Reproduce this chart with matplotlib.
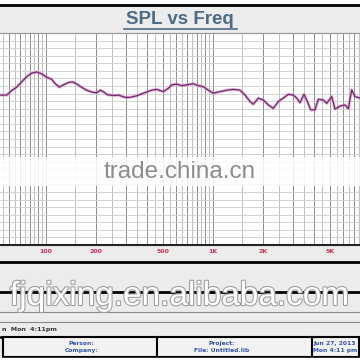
import matplotlib
matplotlib.use("Agg")
import matplotlib.pyplot as plt
from matplotlib.lines import Line2D
from matplotlib.patches import Rectangle
from matplotlib.ticker import FixedLocator, NullFormatter
import matplotlib.patheffects as pe

# SPL curve (Hz, dB)
freq_hz = [52, 53, 58.2, 62.3, 66.8, 71.5, 76.7, 82.1, 88.0, 94.3, 101, 108, 113,
           120, 127, 136, 144, 153, 164, 175, 188, 201, 211, 220, 233, 253, 271,
           297, 318, 349, 383, 430, 460, 482, 504, 540, 566, 606, 650, 696, 762,
           817, 875, 937, 1004, 1101, 1208, 1323, 1451, 1555, 1666, 1743, 1868,
           2001, 2144, 2297, 2460, 2636, 2824, 3026, 3171, 3319, 3507, 3640, 3846,
           4081, 4271, 4576, 4795, 5138, 5377, 5761, 6172, 6460, 6770, 7086, 7592, 7700]
spl_db = [83.6, 83.6, 83.6, 84.8, 85.7, 87.1, 88.5, 89.4, 89.7, 89.2, 88.3, 87.8, 86.7,
          85.7, 86.3, 86.9, 87.1, 86.5, 85.6, 84.9, 84.4, 84.2, 84.9, 84.5, 83.7, 83.5, 83.6,
          83.0, 83.0, 83.4, 84.1, 84.9, 85.1, 84.8, 84.5, 85.4, 86.3, 86.5, 86.1, 86.3, 86.6,
          86.1, 85.8, 84.9, 84.1, 84.5, 84.9, 85.1, 84.9, 83.6, 81.9, 81.2, 82.8,
          82.3, 81.0, 80.1, 81.9, 82.8, 83.8, 83.6, 82.8, 81.6, 83.8, 82.3, 79.7,
          79.7, 82.5, 82.3, 81.4, 83.2, 79.9, 80.7, 81.0, 80.0, 85.0, 83.2, 82.8, 82.6]

tick_freqs = [100, 200, 500, 1000, 2000, 5000]
tick_labels = ["100", "200", "500", "1K", "2K", "5K"]

table_left = ["Person:", "Company:"]
table_mid = ["Project:", "File: Untitled.lib"]
table_right = ["Jun 27, 2013", "Mon 4:11 pm"]

fig = plt.figure(figsize=(3.6, 3.6), dpi=100, facecolor="#ececec")
ax = fig.add_axes([0, 1 - 245 / 360, 1, 212 / 360])
ax.set_facecolor("white")
ax.set_xscale("log")
ax.set_xlim(53, 7590)
ax.set_ylim(44, 100)

major_grid = [m * 10 ** d for d in (1, 2, 3) for m in range(1, 10)]
minor_grid = [(m + 0.5) * 10 ** d for d in (1, 2, 3) for m in range(1, 10)]
ax.xaxis.set_major_locator(FixedLocator(major_grid))
ax.xaxis.set_minor_locator(FixedLocator(minor_grid))
ax.xaxis.set_major_formatter(NullFormatter())
ax.xaxis.set_minor_formatter(NullFormatter())
ax.yaxis.set_major_locator(FixedLocator(list(range(44, 101, 2))))
ax.yaxis.set_major_formatter(NullFormatter())
ax.grid(True, which="major", axis="x", color="#8c8c8c", lw=0.7)
ax.grid(True, which="minor", axis="x", color="#b4b4b4", lw=0.6)
ax.grid(True, which="major", axis="y", color="#cccccc", lw=0.6)
ax.tick_params(which="both", length=0)
ax.set_axisbelow(True)
for s in ("left", "right"):
    ax.spines[s].set_visible(False)
ax.spines["top"].set_color("#999999")
ax.spines["bottom"].set_color("#222222")
ax.spines["bottom"].set_linewidth(1.5)

# tick labels
for f, lab in zip(tick_freqs, tick_labels):
    ax.annotate(lab, (f, 0), xycoords=("data", "axes fraction"), xytext=(0, -3),
                textcoords="offset points", ha="center", va="top", fontsize=4.5,
                fontweight="bold", color="#cc3355", annotation_clip=False)

# curve
ax.plot(freq_hz, spl_db, color="#d77fc8", lw=2.2, alpha=0.6)
ax.plot(freq_hz, spl_db, color="#6e2a63", lw=0.9)

Z = 5
def hline(y_px, color="black", lw=1.0, x0=0, x1=1):
    fig.add_artist(Line2D([x0, x1], [1 - y_px / 360] * 2, color=color, lw=lw, zorder=Z))

# title bar
fig.add_artist(Rectangle((0, 1 - 5 / 360), 1, 5 / 360, color="white", zorder=Z))
hline(5, lw=2)
hline(32.5, color="#999999", lw=0.8)
fig.text(0.5, 1 - 19.5 / 360, "SPL vs Freq", ha="center", va="center", fontsize=13.5,
         fontweight="bold", family="Liberation Sans", color="#4b6b87", zorder=Z)
hline(29, color="#4b6b87", lw=1.2, x0=124 / 360, x1=237 / 360)

# trade.china.cn watermark
fig.add_artist(Rectangle((0, 1 - 186 / 360), 1, 29 / 360, color="white", alpha=0.85,
                         lw=0, zorder=Z))
fig.text(0.5, 1 - 172 / 360, "trade.china.cn", ha="center", va="center", fontsize=17.5,
         family="Liberation Sans", color="#8c8c8c", zorder=Z + 1)

# bottom panels
hline(261.5, lw=2)
hline(291.5, lw=2)
hline(311.5, color="#8a8a8a", lw=0.8)
hline(321.5, color="#8a8a8a", lw=0.8)
fig.text(0.005, 1 - 329 / 360, "n  Mon  4:11pm", ha="left", va="center", fontsize=4.5,
         fontweight="bold", color="#333333", zorder=Z)
hline(336.5, lw=1.8)
fig.add_artist(Rectangle((0.0075, 1 - 357 / 360), 0.99, 20 / 360, facecolor="#f2f2f2",
                         edgecolor="black", lw=1.5, zorder=Z))
for xp in (156.7, 311.7):
    fig.add_artist(Line2D([xp / 360] * 2, [1 - 357 / 360, 1 - 337 / 360], color="black",
                          lw=1.5, zorder=Z))
fig.add_artist(Rectangle((0, 0), 1, 2.5 / 360, color="white", zorder=Z))
for col, xc, ha in ((table_left, 81.7, "center"), (table_mid, 221.7, "center"),
                    (table_right, 313, "left")):
    for row, yp in zip(col, (343.3, 350.7)):
        fig.text(xc / 360, 1 - yp / 360, row, ha=ha, va="center", fontsize=4.3,
                 fontweight="bold", color="#3355aa", zorder=Z + 1)

# alibaba watermark
fig.text(10 / 360, 1 - 305 / 360, "fjqixing.en.alibaba.com", ha="left", va="baseline",
         fontsize=24, family="Liberation Sans", color="white", zorder=Z + 2,
         path_effects=[pe.withStroke(linewidth=1.6, foreground="#a0a0a0")])

fig.savefig("out.png", dpi=100, facecolor=fig.get_facecolor())
